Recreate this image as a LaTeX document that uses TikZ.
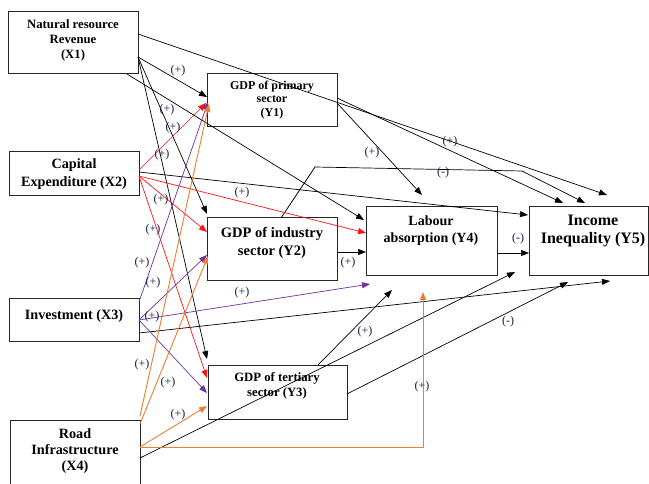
\documentclass[tikz,border=0pt]{standalone}
\usepackage{fontspec}
\setmainfont{Liberation Serif}
\usetikzlibrary{arrows.meta,calc}
\definecolor{cred}{RGB}{255,20,20}
\definecolor{cpurple}{RGB}{112,48,160}
\definecolor{corange}{RGB}{237,125,49}
\definecolor{csign}{RGB}{20,30,70}
\begin{document}
\begin{tikzpicture}[x=1pt,y=-1pt,
  box/.style={draw=black!85,line width=1pt,inner sep=0pt,outer sep=0pt},
  txt/.style={align=center,inner sep=0pt},
  sgn/.style={font=\fontsize{12}{13}\selectfont,text=csign,inner sep=0pt},
  con/.style={line width=0.7pt,-{Triangle[length=8pt,width=6pt]}},
  blk/.style={con,draw=black},
  rd/.style={con,draw=cred},
  pu/.style={con,draw=cpurple},
  og/.style={con,draw=corange,line width=0.9pt}]
\useasboundingbox (0,0) rectangle (649,484);
\fill[white] (0,0) rectangle (649,484);
% boxes
\node[box,minimum width=130pt,minimum height=62pt] (x1) at (73,43) {};
\node[box,minimum width=130pt,minimum height=53pt] (y1) at (272,100.5) {};
\node[box,minimum width=130pt,minimum height=44pt] (x2) at (74,174) {};
\node[box,minimum width=130pt,minimum height=63pt] (y2) at (272,249.5) {};
\node[box,minimum width=131pt,minimum height=69pt] (y4) at (431.5,241.5) {};
\node[box,minimum width=119pt,minimum height=69pt] (y5) at (588.5,241.5) {};
\node[box,minimum width=130pt,minimum height=43pt] (x3) at (74,320.5) {};
\node[box,minimum width=139pt,minimum height=54pt] (y3) at (277.5,392) {};
\node[box,minimum width=130pt,minimum height=70pt] (x4) at (75,455) {};
% texts
\node[txt,font=\bfseries\fontsize{12.7}{15}\selectfont] (x1t) at (73,40) {Natural resource\\Revenue\\(X1)};
\node[txt,font=\bfseries\fontsize{12}{13.5}\selectfont] (y1t) at (272,100) {GDP of primary\\sector\\(Y1)};
\node[txt,font=\bfseries\fontsize{14.2}{17.5}\selectfont] (x2t) at (74,174) {Capital\\Expenditure (X2)};
\node[txt,font=\bfseries\fontsize{14.5}{18.5}\selectfont] (y2t) at (272,243) {GDP of industry\\sector (Y2)};
\node[txt,font=\bfseries\fontsize{14}{17}\selectfont] (y4t) at (431,231) {Labour\\absorption (Y4)};
\node[txt,font=\bfseries\fontsize{16}{18}\selectfont] (y5t) at (593,231) {Income\\Inequality (Y5)};
\node[txt,font=\bfseries\fontsize{14.2}{17}\selectfont] (x3t) at (74,316) {Investment (X3)};
\node[txt,font=\bfseries\fontsize{12.7}{15}\selectfont] (y3t) at (277,386) {GDP of tertiary\\sector (Y3)};
\node[txt,font=\bfseries\fontsize{14.2}{16}\selectfont] (x4t) at (75,451) {Road\\Infrastructure\\(X4)};
% bend points of Y2 -> Y5
\coordinate (b1) at ($(y2.north west)+(108,-51)$);
\coordinate (b2) at ($(y5.north west)+(-7,-36)$);
% black connectors
\draw[blk] ($(x1.north east)+(0,45)$) -- ($(y1.west)+(0,-3.5)$);
\draw[blk] ($(x1.north east)+(0,45)$) -- ($(y2.north west)+(0,-4)$);
\draw[blk] ($(x1.north east)+(0,45)$) -- ($(y3.north west)+(-1,-6)$);
\draw[blk] ($(x1.south east)+(-11,0)$) -- ($(y4.north west)+(-2,13)$);
\draw[blk] ($(x1.north east)+(0,22)$) -- ($(y5.north west)+(78,-12)$);
\draw[blk] ($(y1.north east)+(0,29)$) -- ($(y4.north west)+(56,-12)$);
\draw[blk] ($(y1.north east)+(0,24)$) -- ($(y5.north west)+(34,-4)$);
\draw[blk] ($(x2.north east)+(0,20)$) -- ($(y5.north west)+(-1,8)$);
\draw[blk] ($(x3.north east)+(0,34)$) -- ($(y5.south west)+(81,5)$);
\draw[blk] ($(x4.north east)+(0,38)$) -- ($(y5.south west)+(-14,-4)$);
\draw[blk] ($(y2.east)+(0,2.5)$) -- ($(y4.west)+(0,10.5)$);
\draw[blk] ($(y2.north west)+(74,0)$) -- (b1) -- (b2) -- ($(y5.north west)+(56,-4)$);
\draw[blk] ($(y3.north west)+(110,0)$) -- ($(y4.south west)+(26,14)$);
\draw[blk] ($(y3.east)+(0,2)$) -- ($(y5.south west)+(39,6)$);
\draw[blk] ($(y4.east)+(0,11.5)$) -- ($(y5.west)+(0,11.5)$);
% red connectors
\draw[rd] ($(x2.north east)+(0,18)$) -- ($(y1.south west)+(-1,-24)$);
\draw[rd] ($(x2.north east)+(0,24)$) -- ($(y2.north west)+(0,14)$);
\draw[rd] ($(x2.north east)+(0,24)$) -- ($(y3.north west)+(-1,13)$);
\draw[rd] ($(x2.north east)+(0,24)$) -- ($(y4.north west)+(0,26)$);
% purple connectors
\draw[pu] ($(x3.north east)+(0,3)$) -- ($(y1.south west)+(1,-25)$);
\draw[pu] ($(x3.north east)+(0,21)$) -- ($(y2.south west)+(0,-26)$);
\draw[pu] ($(x3.north east)+(0,21)$) -- ($(y3.north west)+(-1,28)$);
\draw[pu] ($(x3.north east)+(0,21)$) -- ($(y4.south west)+(4,8)$);
% orange connectors
\draw[og] ($(x4.north east)+(0,-4)$) -- ($(y1.south west)+(2,-23)$);
\draw[og] ($(x4.north east)+(0,4)$) -- ($(y2.south west)+(1,-25)$);
\draw[og] ($(x4.north east)+(0,27)$) -- ($(y3.south west)+(-1,-13)$);
\draw[og] ($(x4.north east)+(0,27)$) -| ($(y4.south west)+(57,16)$);
% signs
\node[sgn] (s1) at (178,71) {(+)};
\node[sgn] (s2) at (167,110) {(+)};
\node[sgn] (s3) at (173,128) {(+)};
\node[sgn] (s4) at (162,155) {(+)};
\node[sgn] (s5) at (161,200) {(+)};
\node[sgn] (s6) at (153,230) {(+)};
\node[sgn] (s7) at (142,263) {(+)};
\node[sgn] (s8) at (153,283) {(+)};
\node[sgn] (s9) at (152,317) {(+)};
\node[sgn] (s10) at (142,365) {(+)};
\node[sgn] (s11) at (168,383) {(+)};
\node[sgn] (s12) at (178,415) {(+)};
\node[sgn] (s13) at (242,193) {(+)};
\node[sgn] (s14) at (242,293) {(+)};
\node[sgn] (s15) at (348,263) {(+)};
\node[sgn] (s16) at (372,153) {(+)};
\node[sgn] (s17) at (450,142) {(+)};
\node[sgn] (s18) at (365,332) {(+)};
\node[sgn] (s19) at (422,387) {(+)};
\node[sgn] (s20) at (443,173) {(-)};
\node[sgn] (s21) at (518,239) {(-)};
\node[sgn] (s22) at (508,322) {(-)};
\end{tikzpicture}
\end{document}
